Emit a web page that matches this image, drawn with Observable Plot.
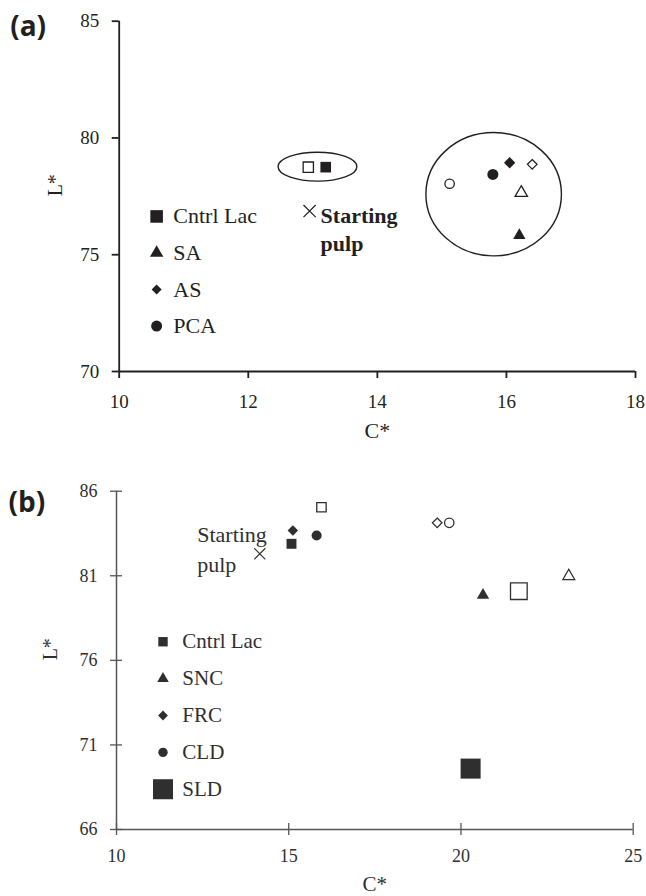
<!DOCTYPE html>
<html>
<head>
<meta charset="utf-8">
<script src="https://cdn.jsdelivr.net/npm/d3@7"></script>
<script src="https://cdn.jsdelivr.net/npm/@observablehq/plot@0.6"></script>
<style>
  html, body { margin: 0; padding: 0; background: #fff; }
  body { width: 646px; height: 896px; overflow: hidden; }
  svg { display: block; }
</style>
</head>
<body>
<div id="panelA"></div>
<div id="panelB"></div>
<script>
// ---------------- Panel (a) data ----------------
const aTreatments = ["Cntrl Lac", "SA", "AS", "PCA"];
const aFilledC = [13.2, 16.2, 16.05, 15.79];
const aFilledL = [78.75, 75.83, 78.94, 78.44];
const aOpenC = [12.93, 16.23, 16.4, 15.12];
const aOpenL = [78.75, 77.65, 78.87, 78.04];
const aStartC = [12.95];
const aStartL = [76.87];
const aStartLabel = ["Starting\npulp"];
const aXTicks = [10, 12, 14, 16, 18];
const aYTicks = [70, 75, 80, 85];
// grouping ellipses (centre and half-axes, in C*/L* units)
const aGroupC = [13.08, 15.81];
const aGroupL = [78.75, 77.57];
const aGroupHalfC = [0.61, 1.05];
const aGroupHalfL = [0.62, 2.64];

// ---------------- Panel (b) data ----------------
const bTreatments = ["Cntrl Lac", "SNC", "FRC", "CLD", "SLD"];
const bFilledC = [15.08, 20.64, 15.12, 15.81, 20.28];
const bFilledL = [82.89, 79.85, 83.68, 83.38, 69.6];
const bOpenC = [15.95, 23.13, 19.31, 19.66, 21.68];
const bOpenL = [85.05, 80.98, 84.13, 84.13, 80.09];
const bStartC = [14.16];
const bStartL = [82.3];
const bStartLabel = ["Starting\npulp"];
const bXTicks = [10, 15, 20, 25];
const bYTicks = [66, 71, 76, 81, 86];

// ---------------- styles ----------------
const SERIF = "'Liberation Serif', 'Times New Roman', serif";
const SANS = "'Open Sans', 'Liberation Sans', Arial, sans-serif";
const INK_A = "#231f20";
const INK_B = "#2f2f2f";
const LINE_B = "#555";

const symbolOf = {"Cntrl Lac": "square", SA: "triangle", AS: "diamond2", PCA: "circle",
                  SNC: "triangle", FRC: "diamond2", CLD: "circle", SLD: "square"};
const rFilledA = {"Cntrl Lac": 6, SA: 4.6, AS: 5.1, PCA: 5.5};
const rOpenA   = {"Cntrl Lac": 5.8, SA: 4.6, AS: 4.3, PCA: 4.7};
const rLegA    = {"Cntrl Lac": 7.1, SA: 5, AS: 4.5, PCA: 5.5};
const rFilledB = {"Cntrl Lac": 5.6, SNC: 4.6, FRC: 4.7, CLD: 5, SLD: 11.3};
const rOpenB   = {"Cntrl Lac": 5.3, SNC: 4.4, FRC: 4.3, CLD: 4.7, SLD: 9.4};
const rLegB    = {"Cntrl Lac": 5.3, SNC: 4.3, FRC: 4.4, CLD: 4.7, SLD: 11.3};

// ellipse annotation drawn through the plot's scales
function ellipses(cx, cy, hx, hy, stroke) {
  return (index, {x, y}) => {
    const g = d3.create("svg:g").attr("fill", "none").attr("stroke", stroke).attr("stroke-width", 1.4);
    cx.forEach((c, i) => {
      g.append("ellipse")
        .attr("cx", x(c)).attr("cy", y(cy[i]))
        .attr("rx", Math.abs(x(c + hx[i]) - x(c)))
        .attr("ry", Math.abs(y(cy[i] + hy[i]) - y(cy[i])));
    });
    return g.node();
  };
}

function pointMarks(names, fc, fl, oc, ol, rF, rO, ink) {
  return names.flatMap((t, i) => [
    Plot.dot([i], {x: j => oc[j], y: j => ol[j], symbol: symbolOf[t], r: rO[t],
                   fill: "white", stroke: ink, strokeWidth: 1.3}),
    Plot.dot([i], {x: j => fc[j], y: j => fl[j], symbol: symbolOf[t], r: rF[t],
                   fill: ink, stroke: "none"})
  ]);
}

function legendMarks(names, xC, yTop, yStep, rL, ink, dxText, fontSize) {
  return names.flatMap((t, i) => [
    Plot.dot([i], {x: () => xC, y: j => yTop - j * yStep, symbol: symbolOf[t], r: rL[t], fill: ink, stroke: "none"}),
    Plot.text([t], {x: () => xC, y: () => yTop - i * yStep, text: d => d, dx: dxText,
                    textAnchor: "start", fontSize, fill: ink, fontFamily: SERIF})
  ]);
}

// ---------------- Panel (a) ----------------
const plotA = Plot.plot({
  width: 646, height: 460,
  marginLeft: 118.7, marginRight: 11, marginTop: 20.7, marginBottom: 89,
  x: {domain: [10, 18]},
  y: {domain: [70, 85]},
  style: {fontFamily: SERIF, fontSize: "19px", color: INK_A, background: "white", overflow: "visible"},
  marks: [
    Plot.ruleX([10], {stroke: INK_A, strokeWidth: 1.8}),
    Plot.ruleY([70], {stroke: INK_A, strokeWidth: 1.8}),
    Plot.axisY({ticks: aYTicks, tickSize: 7, tickPadding: 13, tickFormat: d => d, label: null, strokeWidth: 1.8}),
    Plot.axisX({ticks: aXTicks, tickSize: 7, tickPadding: 16, tickFormat: d => d, label: null, strokeWidth: 1.8}),
    Plot.text(["L*"], {text: d => d, frameAnchor: "left", dx: -64, rotate: -90, fontSize: 20, fill: INK_A}),
    Plot.text(["C*"], {text: d => d, frameAnchor: "bottom", dy: 66, fontSize: 22, fill: INK_A}),
    Plot.text(["(a)"], {text: d => d, frameAnchor: "top-left", dx: -109, dy: 15, lineAnchor: "bottom",
                        textAnchor: "start", fontFamily: SANS, fontWeight: "bold", fontSize: 28, fill: INK_A}),
    ellipses(aGroupC, aGroupL, aGroupHalfC, aGroupHalfL, INK_A),
    ...pointMarks(aTreatments, aFilledC, aFilledL, aOpenC, aOpenL, rFilledA, rOpenA, INK_A),
    Plot.dot(aStartC, {x: d => d, y: (d, i) => aStartL[i], symbol: "times", r: 5.6, stroke: INK_A, strokeWidth: 1.2}),
    Plot.text(aStartLabel, {x: (d, i) => aStartC[i], y: (d, i) => aStartL[i], text: d => d,
                            dx: 11, dy: -8, textAnchor: "start", lineAnchor: "top", lineHeight: 1.27,
                            fontSize: 22, fontWeight: "bold", fill: INK_A}),
    ...legendMarks(aTreatments, 10.58, 76.64, 1.565, rLegA, INK_A, 16.7, 22)
  ]
});
document.getElementById("panelA").appendChild(plotA);

// ---------------- Panel (b) ----------------
const plotB = Plot.plot({
  width: 646, height: 436,
  marginLeft: 116, marginRight: 13.3, marginTop: 30.7, marginBottom: 67,
  x: {domain: [10, 25]},
  y: {domain: [66, 86]},
  style: {fontFamily: SERIF, fontSize: "18px", color: INK_B, background: "white", overflow: "visible"},
  marks: [
    Plot.ruleX([10], {stroke: LINE_B, strokeWidth: 1.5}),
    Plot.ruleY([66], {stroke: LINE_B, strokeWidth: 1.5}),
    Plot.ruleX(bXTicks, {x: d => d, y1: 66, y2: 66, insetTop: -6, insetBottom: -6, stroke: LINE_B, strokeWidth: 1.3}),
    Plot.ruleY(bYTicks, {y: d => d, x1: 10, x2: 10, insetLeft: -6, insetRight: -6, stroke: LINE_B, strokeWidth: 1.3}),
    Plot.axisY({ticks: bYTicks, tickSize: 0, tickPadding: 19, tickFormat: d => d, label: null, fill: INK_B}),
    Plot.axisX({ticks: bXTicks, tickSize: 0, tickPadding: 20, tickFormat: d => d, label: null, fill: INK_B}),
    Plot.text(["L*"], {text: d => d, frameAnchor: "left", dx: -66, rotate: -90, fontSize: 20, fill: INK_B}),
    Plot.text(["C*"], {text: d => d, frameAnchor: "bottom", dy: 61, fontSize: 21, fill: INK_B}),
    Plot.text(["(b)"], {text: d => d, frameAnchor: "top-left", dx: -108, dy: 21, lineAnchor: "bottom",
                        textAnchor: "start", fontFamily: SANS, fontWeight: "bold", fontSize: 28, fill: "#231f20"}),
    ...pointMarks(bTreatments, bFilledC, bFilledL, bOpenC, bOpenL, rFilledB, rOpenB, INK_B),
    Plot.dot(bStartC, {x: d => d, y: (d, i) => bStartL[i], symbol: "times", r: 5.1, stroke: INK_B, strokeWidth: 1.1}),
    Plot.text(bStartLabel, {x: (d, i) => bStartC[i], y: (d, i) => bStartL[i], text: d => d,
                            dx: -62.6, dy: -32.2, textAnchor: "start", lineAnchor: "top", lineHeight: 1.33,
                            fontSize: 22, fill: INK_B}),
    ...legendMarks(bTreatments, 11.35, 77.1, 2.18, rLegB, INK_B, 19.3, 21)
  ]
});
document.getElementById("panelB").appendChild(plotB);
</script>
</body>
</html>
